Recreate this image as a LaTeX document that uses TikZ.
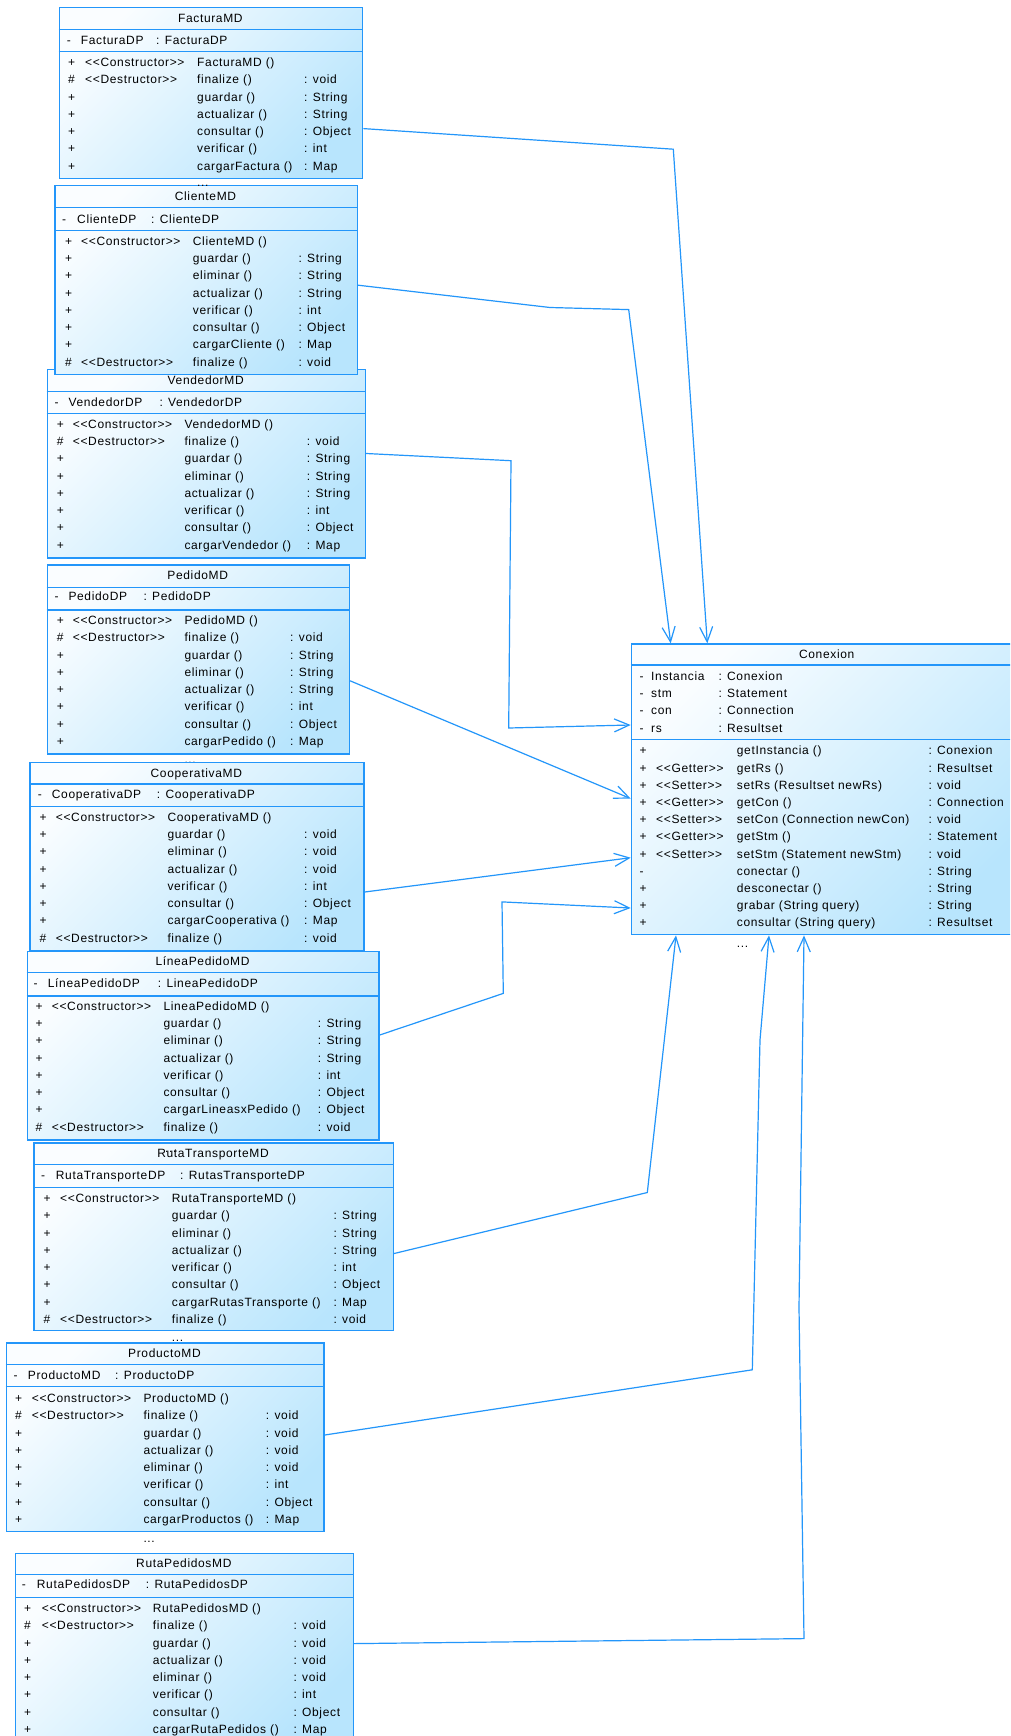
\documentclass[tikz,border=0pt]{standalone}
\usepackage{fontspec}
\newfontfamily\umlfont{Liberation Sans}[LetterSpace=5.5]
\usetikzlibrary{arrows.meta}
\definecolor{bord}{RGB}{35,150,250}
\definecolor{gtop}{RGB}{250,253,255}
\definecolor{gbot}{RGB}{184,229,253}
\tikzset{
 cls/.style={draw=bord, line width=1.4pt, top color=gtop, bottom color=gbot, shading angle=45, inner sep=0pt, anchor=north west},
 sepl/.style={draw=bord, line width=1.2pt},
 txt/.style={inner sep=0pt, anchor=mid west, yshift=-2pt, font=\umlfont\fontsize{12}{14}\selectfont, text=black},
 ttl/.style={txt, anchor=mid},
 more/.style={txt, anchor=base west},
 conn/.style={draw=bord, line width=1.2pt, -{Straight Barb[length=15pt,width=13pt]}},
}
\newcommand\cbox[8]{%
  \node[cls, minimum width={#4-#2}, minimum height={#5-#3}] (#1) at (#2,#3) {};
  \draw[sepl] (#1.west |- 0,#6) -- (#1.east |- 0,#6);
  \draw[sepl] (#1.west |- 0,#7) -- (#1.east |- 0,#7);
  \node[ttl] (#1-title) at ({(#2+#4)/2},{(#3+#6)/2}) {#8};
}
\newcommand\setcols[4]{\def\cV{#1}\def\cS{#2}\def\cN{#3}\def\cT{#4}}
\newcommand\setacols[3]{\def\aV{#1}\def\aN{#2}\def\aT{#3}}
\newcommand\setrows[2]{\def\rowA{#1}\def\pitch{#2}}
\newcommand\arow[6]{%
  \node[txt] (#1-av#2) at (\aV,#3) {#4};
  \node[txt] (#1-an#2) at (\aN,#3) {#5};
  \node[txt] (#1-at#2) at (\aT,#3) {#6};
}
\newcommand\mrow[6]{%
  \pgfmathsetmacro\ry{\rowA+#2*\pitch}%
  \node[txt] (#1-v#2) at (\cV,\ry) {#3};
  \if\relax\detokenize{#4}\relax\else\node[txt] (#1-s#2) at (\cS,\ry) {#4};\fi
  \node[txt] (#1-n#2) at (\cN,\ry) {#5};
  \if\relax\detokenize{#6}\relax\else\node[txt] (#1-t#2) at (\cT,\ry) {#6};\fi
}
\begin{document}
\begin{tikzpicture}[x=1pt,y=-1pt]
\useasboundingbox (0,0) rectangle (1010,1736);
\clip (0,0) rectangle (1010,1736);
\fill[white] (0,0) rectangle (1010,1736);

% ---------------- FacturaMD
\cbox{fact}{58.7}{6.7}{362}{178}{29.3}{51.7}{FacturaMD}
\setacols{66.7}{80.7}{156}
\arow{fact}{0}{40.5}{-}{FacturaDP}{: FacturaDP}
\setcols{68}{85}{197}{304}\setrows{62.3}{17.3}
\mrow{fact}{0}{+}{<<Constructor>>}{FacturaMD ()}{}
\mrow{fact}{1}{\#}{<<Destructor>>}{finalize ()}{: void}
\mrow{fact}{2}{+}{}{guardar ()}{: String}
\mrow{fact}{3}{+}{}{actualizar ()}{: String}
\mrow{fact}{4}{+}{}{consultar ()}{: Object}
\mrow{fact}{5}{+}{}{verificar ()}{: int}
\mrow{fact}{6}{+}{}{cargarFactura ()}{: Map}

% ---------------- VendedorMD (below ClienteMD)
\cbox{ven}{46.7}{368.7}{364.7}{557.3}{391.3}{413.7}{VendedorMD}
\setacols{54.3}{68.3}{159.3}
\arow{ven}{0}{402.3}{-}{VendedorDP}{: VendedorDP}
\setcols{56.7}{72.7}{184.3}{306.7}\setrows{424}{17.3}
\mrow{ven}{0}{+}{<<Constructor>>}{VendedorMD ()}{}
\mrow{ven}{1}{\#}{<<Destructor>>}{finalize ()}{: void}
\mrow{ven}{2}{+}{}{guardar ()}{: String}
\mrow{ven}{3}{+}{}{eliminar ()}{: String}
\mrow{ven}{4}{+}{}{actualizar ()}{: String}
\mrow{ven}{5}{+}{}{verificar ()}{: int}
\mrow{ven}{6}{+}{}{consultar ()}{: Object}
\mrow{ven}{7}{+}{}{cargarVendedor ()}{: Map}

% ---------------- ClienteMD
\cbox{cli}{54.3}{184.7}{356.7}{374}{207.7}{230.7}{ClienteMD}
\setacols{62}{77}{151}
\arow{cli}{0}{219.2}{-}{ClienteDP}{: ClienteDP}
\setcols{65}{81}{192.7}{298.3}\setrows{241}{17.3}
\mrow{cli}{0}{+}{<<Constructor>>}{ClienteMD ()}{}
\mrow{cli}{1}{+}{}{guardar ()}{: String}
\mrow{cli}{2}{+}{}{eliminar ()}{: String}
\mrow{cli}{3}{+}{}{actualizar ()}{: String}
\mrow{cli}{4}{+}{}{verificar ()}{: int}
\mrow{cli}{5}{+}{}{consultar ()}{: Object}
\mrow{cli}{6}{+}{}{cargarCliente ()}{: Map}
\mrow{cli}{7}{\#}{<<Destructor>>}{finalize ()}{: void}
\node[more] (fact-more) at (197,184.5) {...};

% ---------------- PedidoMD
\cbox{ped}{46.7}{564.3}{348.7}{753.3}{587.3}{610}{PedidoMD}
\setacols{54.3}{68.3}{143.3}
\arow{ped}{0}{596}{-}{PedidoDP}{: PedidoDP}
\setcols{56.7}{72.7}{184.3}{290}\setrows{620.3}{17.3}
\mrow{ped}{0}{+}{<<Constructor>>}{PedidoMD ()}{}
\mrow{ped}{1}{\#}{<<Destructor>>}{finalize ()}{: void}
\mrow{ped}{2}{+}{}{guardar ()}{: String}
\mrow{ped}{3}{+}{}{eliminar ()}{: String}
\mrow{ped}{4}{+}{}{actualizar ()}{: String}
\mrow{ped}{5}{+}{}{verificar ()}{: int}
\mrow{ped}{6}{+}{}{consultar ()}{: Object}
\mrow{ped}{7}{+}{}{cargarPedido ()}{: Map}
\node[more] (ped-more) at (184.3,761) {...};

% ---------------- CooperativaMD
\cbox{coop}{29.3}{761.7}{363.3}{950}{784}{806.7}{CooperativaMD}
\setacols{37.7}{51.7}{156.7}
\arow{coop}{0}{794.3}{-}{CooperativaDP}{: CooperativaDP}
\setcols{39.3}{55.7}{167.3}{304}\setrows{817}{17.3}
\mrow{coop}{0}{+}{<<Constructor>>}{CooperativaMD ()}{}
\mrow{coop}{1}{+}{}{guardar ()}{: void}
\mrow{coop}{2}{+}{}{eliminar ()}{: void}
\mrow{coop}{3}{+}{}{actualizar ()}{: void}
\mrow{coop}{4}{+}{}{verificar ()}{: int}
\mrow{coop}{5}{+}{}{consultar ()}{: Object}
\mrow{coop}{6}{+}{}{cargarCooperativa ()}{: Map}
\mrow{coop}{7}{\#}{<<Destructor>>}{finalize ()}{: void}

% ---------------- LíneaPedidoMD
\cbox{lin}{26.7}{950.7}{378.3}{1139.3}{972.7}{996}{LíneaPedidoMD}
\setacols{33.3}{47.7}{157.7}
\arow{lin}{0}{983.3}{-}{LíneaPedidoDP}{: LineaPedidoDP}
\setcols{35.3}{51.7}{163.3}{317.7}\setrows{1006}{17.3}
\mrow{lin}{0}{+}{<<Constructor>>}{LineaPedidoMD ()}{}
\mrow{lin}{1}{+}{}{guardar ()}{: String}
\mrow{lin}{2}{+}{}{eliminar ()}{: String}
\mrow{lin}{3}{+}{}{actualizar ()}{: String}
\mrow{lin}{4}{+}{}{verificar ()}{: int}
\mrow{lin}{5}{+}{}{consultar ()}{: Object}
\mrow{lin}{6}{+}{}{cargarLineasxPedido ()}{: Object}
\mrow{lin}{7}{\#}{<<Destructor>>}{finalize ()}{: void}

% ---------------- RutaTransporteMD
\cbox{rt}{33.3}{1142.3}{392.7}{1330}{1164.7}{1187.3}{RutaTransporteMD}
\setacols{41}{55.7}{180}
\arow{rt}{0}{1175}{-}{RutaTransporteDP}{: RutasTransporteDP}
\setcols{43.3}{60}{171.7}{333.3}\setrows{1198.3}{17.3}
\mrow{rt}{0}{+}{<<Constructor>>}{RutaTransporteMD ()}{}
\mrow{rt}{1}{+}{}{guardar ()}{: String}
\mrow{rt}{2}{+}{}{eliminar ()}{: String}
\mrow{rt}{3}{+}{}{actualizar ()}{: String}
\mrow{rt}{4}{+}{}{verificar ()}{: int}
\mrow{rt}{5}{+}{}{consultar ()}{: Object}
\mrow{rt}{6}{+}{}{cargarRutasTransporte ()}{: Map}
\mrow{rt}{7}{\#}{<<Destructor>>}{finalize ()}{: void}
\node[more] (lin-more) at (165,1150) {...};
\node[more] (rt-more) at (171.7,1339.5) {...};

% ---------------- ProductoMD
\cbox{prod}{5.7}{1342.3}{323.3}{1531}{1364.3}{1386.7}{ProductoMD}
\setacols{13.3}{27.7}{115}
\arow{prod}{0}{1375}{-}{ProductoMD}{: ProductoDP}
\setcols{15}{31.7}{143.3}{265.7}\setrows{1398.3}{17.3}
\mrow{prod}{0}{+}{<<Constructor>>}{ProductoMD ()}{}
\mrow{prod}{1}{\#}{<<Destructor>>}{finalize ()}{: void}
\mrow{prod}{2}{+}{}{guardar ()}{: void}
\mrow{prod}{3}{+}{}{actualizar ()}{: void}
\mrow{prod}{4}{+}{}{eliminar ()}{: void}
\mrow{prod}{5}{+}{}{verificar ()}{: int}
\mrow{prod}{6}{+}{}{consultar ()}{: Object}
\mrow{prod}{7}{+}{}{cargarProductos ()}{: Map}
\node[more] (prod-more) at (143.3,1540.5) {...};

% ---------------- RutaPedidosMD
\cbox{rp}{15}{1552.7}{352.7}{1745}{1574.7}{1597.3}{RutaPedidosMD}
\setacols{21.7}{36.7}{145.7}
\arow{rp}{0}{1584.3}{-}{RutaPedidosDP}{: RutaPedidosDP}
\setcols{24}{41.7}{152.7}{293.3}\setrows{1608.3}{17.3}
\mrow{rp}{0}{+}{<<Constructor>>}{RutaPedidosMD ()}{}
\mrow{rp}{1}{\#}{<<Destructor>>}{finalize ()}{: void}
\mrow{rp}{2}{+}{}{guardar ()}{: void}
\mrow{rp}{3}{+}{}{actualizar ()}{: void}
\mrow{rp}{4}{+}{}{eliminar ()}{: void}
\mrow{rp}{5}{+}{}{verificar ()}{: int}
\mrow{rp}{6}{+}{}{consultar ()}{: Object}
\mrow{rp}{7}{+}{}{cargarRutaPedidos ()}{: Map}

% ---------------- Conexion
\cbox{con}{630.7}{643.3}{1022.7}{934}{665}{739.3}{Conexion}
\setacols{639.3}{651}{718.3}
\arow{con}{0}{676}{-}{Instancia}{: Conexion}
\arow{con}{1}{693.3}{-}{stm}{: Statement}
\arow{con}{2}{710.7}{-}{con}{: Connection}
\arow{con}{3}{728}{-}{rs}{: Resultset}
\setcols{639.3}{656}{736.7}{928.3}\setrows{750.7}{17.2}
\mrow{con}{0}{+}{}{getInstancia ()}{: Conexion}
\mrow{con}{1}{+}{<<Getter>>}{getRs ()}{: Resultset}
\mrow{con}{2}{+}{<<Setter>>}{setRs (Resultset newRs)}{: void}
\mrow{con}{3}{+}{<<Getter>>}{getCon ()}{: Connection}
\mrow{con}{4}{+}{<<Setter>>}{setCon (Connection newCon)}{: void}
\mrow{con}{5}{+}{<<Getter>>}{getStm ()}{: Statement}
\mrow{con}{6}{+}{<<Setter>>}{setStm (Statement newStm)}{: void}
\mrow{con}{7}{-}{}{conectar ()}{: String}
\mrow{con}{8}{+}{}{desconectar ()}{: String}
\mrow{con}{9}{+}{}{grabar (String query)}{: String}
\mrow{con}{10}{+}{}{consultar (String query)}{: Resultset}
\node[more] (con-more) at (736.7,945.5) {...};

% ---------------- connectors
\draw[conn] (fact.east |- 0,128.6) -- (673.3,149.2) -- (707.3,0 |- con.north);
\draw[conn] (cli.east |- 0,285.2) -- (550,307.5) -- (628.7,309.6) -- (670.7,0 |- con.north);
\draw[conn] (ven.east |- 0,453.5) -- (511,460.7) -- (508.7,728) -- (con.west |- 0,725);
\draw[conn] (ped.east |- 0,680.8) -- (con.west |- 0,798.6);
\draw[conn] (coop.east |- 0,892) -- (con.west |- 0,857.7);
\draw[conn] (lin.east |- 0,1035) -- (503.3,993.4) -- (502,901.9) -- (con.west |- 0,908);
\draw[conn] (rt.east |- 0,1253.5) -- (647.3,1192.5) -- (676,0 |- con.south);
\draw[conn] (prod.east |- 0,1435) -- (752.3,1369.8) -- (760,1040) -- (769,0 |- con.south);
\draw[conn] (rp.east |- 0,1643.6) -- (804,1638.6) -- (799,1307.6) -- (804,0 |- con.south);
\end{tikzpicture}
\end{document}
